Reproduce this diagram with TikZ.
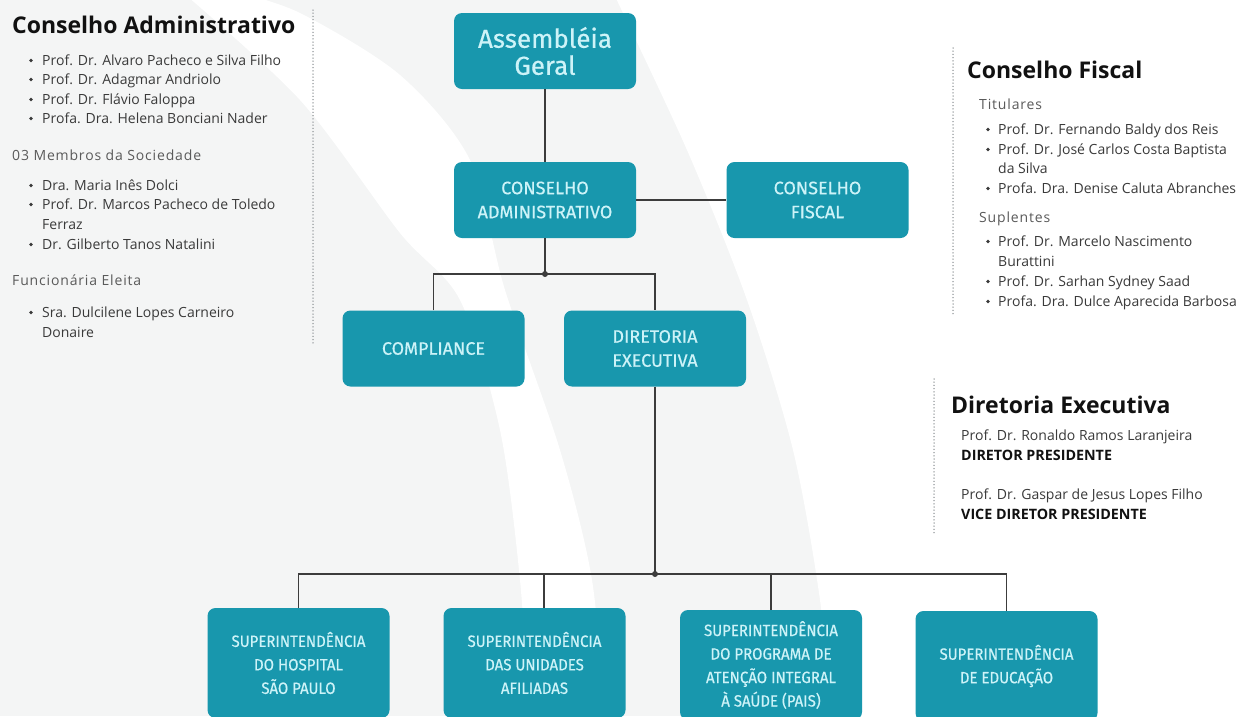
\documentclass[tikz,border=0pt]{standalone}
\usepackage{fontspec}
\setmainfont{Open Sans}
\newfontfamily\boxfont[FakeBold=0.5]{Fira Sans}
\newfontfamily\supfont[FakeStretch=0.92,FakeBold=0.5]{Fira Sans}
\definecolor{tealbox}{HTML}{1897AD}
\definecolor{boxtxt}{HTML}{CDF3F8}
\definecolor{bggray}{HTML}{F4F5F5}
\definecolor{linec}{HTML}{3C3C3C}
\definecolor{itemc}{HTML}{3A3A3A}
\definecolor{subc}{HTML}{5A5A5A}
\definecolor{headc}{HTML}{111111}
\definecolor{dotc}{HTML}{8A8F92}
\begin{document}
\begin{tikzpicture}[x=1pt,y=-1pt,
  orgbox/.style={fill=tealbox, rounded corners=8pt, minimum width=182pt, minimum height=76pt,
    text=boxtxt, align=center, inner sep=0pt, font=\boxfont\fontsize{18}{24}\selectfont},
  supbox/.style={orgbox, minimum height=110pt, font=\supfont\fontsize{16.3}{23.5}\selectfont},
  conn/.style={draw=linec, line width=1.3pt},
  jdot/.style={fill=linec},
  head/.style={anchor=base west, inner sep=0pt, text=headc, font=\bfseries\fontsize{23}{26}\selectfont},
  item/.style={anchor=base west, inner sep=0pt, text=itemc, font=\fontsize{14}{16}\selectfont},
  sub/.style={anchor=base west, inner sep=0pt, text=subc, font=\fontsize{14}{16}\selectfont\addfontfeature{LetterSpace=6}},
  bold/.style={item, text=headc, font=\bfseries\fontsize{14.3}{16}\selectfont},
  sep/.style={draw=dotc, line width=1.5pt, dash pattern=on 0pt off 3.2pt, line cap=round}
]
\useasboundingbox (0,0) rectangle (1242,716);
\begin{scope}
\clip (0,0) rectangle (1242,716);
% background
\fill[bggray] (0,0) rectangle (1242,716);
\fill[white] plot[smooth] coordinates {(230,-10) (300,13) (400,75) (470,160) (505,290) (560,450) (592,580) (606,730)}
  -- plot[smooth] coordinates {(530,730) (520,580) (500,430) (460,300) (400,233) (300,100) (180,-10)} -- cycle;
\fill[white] plot[smooth] coordinates {(612,-10) (687,150) (747,300) (793,450) (820,600) (832,730)}
  -- (1250,730) -- (1250,-10) -- cycle;

% boxes
\node[orgbox, font=\boxfont\fontsize{26}{27}\selectfont] (ag) at (545,51) {Assembléia\\Geral};
\node[orgbox] (ca) at (545,200) {CONSELHO\\ADMINISTRATIVO};
\node[orgbox] (cf) at (817.5,200) {CONSELHO\\FISCAL};
\node[orgbox] (comp) at (433.5,348.5) {COMPLIANCE};
\node[orgbox] (de) at (655,348.5) {DIRETORIA\\EXECUTIVA};
\node[supbox] (s1) at (298.5,663) {SUPERINTENDÊNCIA\\DO HOSPITAL\\SÃO PAULO};
\node[supbox] (s2) at (534.5,663) {SUPERINTENDÊNCIA\\DAS UNIDADES\\AFILIADAS};
\node[supbox] (s3) at (771,665) {SUPERINTENDÊNCIA\\DO PROGRAMA DE\\ATENÇÃO INTEGRAL\\À SAÚDE (PAIS)};
\node[supbox] (s4) at (1006.5,666) {SUPERINTENDÊNCIA\\DE EDUCAÇÃO};

% connectors
\coordinate (j1) at (545,274);
\coordinate (j2) at (655,574);
\coordinate (k2) at (544,574);
\draw[conn] (ag.south) -- (ca.north);
\draw[conn] (ca.east) -- (cf.west);
\draw[conn] (ca.south) -- (j1);
\draw[conn] (comp.north) |- (j1) -| (de.north);
\draw[conn] (de.south) -- (j2);
\draw[conn] (s1.north) |- (j2) -| (s4.north);
\draw[conn] (k2) -- (k2 |- s2.north);
\draw[conn] (s3.north) -- (s3.north |- j2);
\fill[jdot] (j1) circle (3);
\fill[jdot] (j2) circle (3);
\end{scope}

% separators
\draw[sep] (313,10) -- (313,345);
\draw[sep] (953,48) -- (953,315);
\draw[sep] (934,379) -- (934,535);

% left column
\node[head] (h1) at (12,33) {Conselho Administrativo};
\foreach \yy/\tt [count=\i] in {65/Prof. Dr. Alvaro Pacheco e Silva Filho,84/Prof. Dr. Adagmar Andriolo,104/Prof. Dr. Flávio Faloppa,123/Profa. Dra. Helena Bonciani Nader,190/Dra. Maria Inês Dolci,209/Prof. Dr. Marcos Pacheco de Toledo,249/Dr. Gilberto Tanos Natalini,317/Sra. Dulcilene Lopes Carneiro}
  {\node[item] (la\i) at (42,\yy) {\tt}; \fill[itemc] (31,\yy-4.5) circle (1.9);}
\node[item] (lb1) at (42,229) {Ferraz};
\node[item] (lb2) at (42,337) {Donaire};
\node[sub] (ls1) at (12,160) {03 Membros da Sociedade};
\node[sub] (ls2) at (12,285) {Funcionária Eleita};

% right column: Conselho Fiscal
\node[head] (h2) at (967,78) {Conselho Fiscal};
\node[sub] (rs1) at (979,109) {Titulares};
\node[sub] (rs2) at (979,222) {Suplentes};
\foreach \yy/\tt [count=\i] in {134/Prof. Dr. Fernando Baldy dos Reis,154/Prof. Dr. José Carlos Costa Baptista,193/Profa. Dra. Denise Caluta Abranches,246/Prof. Dr. Marcelo Nascimento,286/Prof. Dr. Sarhan Sydney Saad,306/Profa. Dra. Dulce Aparecida Barbosa}
  {\node[item] (ra\i) at (998,\yy) {\tt}; \fill[itemc] (988,\yy-4.5) circle (1.9);}
\node[item] (rb1) at (998,173) {da Silva};
\node[item] (rb2) at (998,266) {Burattini};

% right column: Diretoria Executiva
\node[head] (h3) at (951,413) {Diretoria Executiva};
\node[item] (d1) at (961,440) {Prof. Dr. Ronaldo Ramos Laranjeira};
\node[bold] (d2) at (961,460) {DIRETOR PRESIDENTE};
\node[item] (d3) at (961,499) {Prof. Dr. Gaspar de Jesus Lopes Filho};
\node[bold] (d4) at (961,519) {VICE DIRETOR PRESIDENTE};
\end{tikzpicture}
\end{document}
